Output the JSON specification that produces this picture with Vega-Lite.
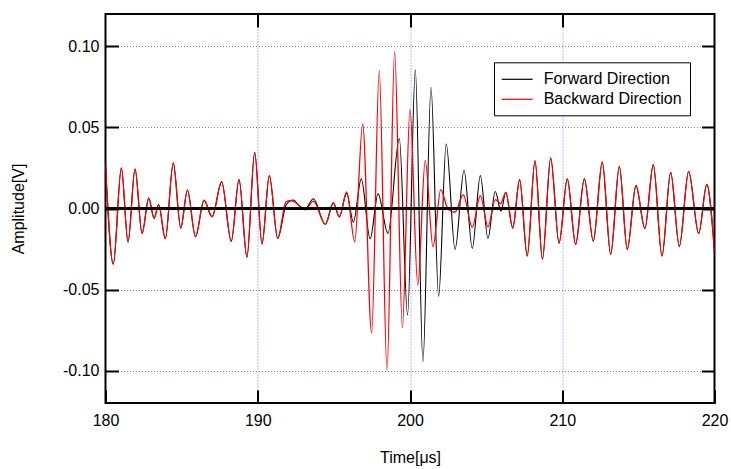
{
  "$schema": "https://vega.github.io/schema/vega-lite/v6.json",
  "width": 609,
  "height": 389,
  "autosize": "none",
  "padding": {"left": 105.5, "top": 14, "right": 16.5, "bottom": 66},
  "background": "white",
  "datasets": {
    "sig": [
      {"dir":"Forward Direction","t":180.0,"v":0.027},
      {"dir":"Forward Direction","t":180.51,"v":-0.0344},
      {"dir":"Forward Direction","t":181.04,"v":0.025},
      {"dir":"Forward Direction","t":181.48,"v":-0.0207},
      {"dir":"Forward Direction","t":181.94,"v":0.0244},
      {"dir":"Forward Direction","t":182.40,"v":-0.0154},
      {"dir":"Forward Direction","t":182.84,"v":0.0064},
      {"dir":"Forward Direction","t":183.19,"v":-0.006},
      {"dir":"Forward Direction","t":183.49,"v":0.0023},
      {"dir":"Forward Direction","t":183.93,"v":-0.0187},
      {"dir":"Forward Direction","t":184.45,"v":0.0281},
      {"dir":"Forward Direction","t":184.94,"v":-0.0121},
      {"dir":"Forward Direction","t":185.38,"v":0.0113},
      {"dir":"Forward Direction","t":185.91,"v":-0.0174},
      {"dir":"Forward Direction","t":186.47,"v":0.0051},
      {"dir":"Forward Direction","t":187.0,"v":-0.0051},
      {"dir":"Forward Direction","t":187.63,"v":0.0164},
      {"dir":"Forward Direction","t":188.26,"v":-0.0203},
      {"dir":"Forward Direction","t":188.77,"v":0.0178},
      {"dir":"Forward Direction","t":189.29,"v":-0.030},
      {"dir":"Forward Direction","t":189.80,"v":0.0346},
      {"dir":"Forward Direction","t":190.28,"v":-0.0219},
      {"dir":"Forward Direction","t":190.76,"v":0.0203},
      {"dir":"Forward Direction","t":191.31,"v":-0.0185},
      {"dir":"Forward Direction","t":191.85,"v":0.002},
      {"dir":"Forward Direction","t":192.1,"v":0.0045},
      {"dir":"Forward Direction","t":192.33,"v":0.0052},
      {"dir":"Forward Direction","t":192.7,"v":0.002},
      {"dir":"Forward Direction","t":193.1,"v":-0.0006},
      {"dir":"Forward Direction","t":193.65,"v":0.006},
      {"dir":"Forward Direction","t":194.44,"v":-0.0098},
      {"dir":"Forward Direction","t":194.96,"v":0.0035},
      {"dir":"Forward Direction","t":195.36,"v":-0.0051},
      {"dir":"Forward Direction","t":195.84,"v":0.0095},
      {"dir":"Forward Direction","t":196.28,"v":-0.0084},
      {"dir":"Forward Direction","t":196.80,"v":0.0183},
      {"dir":"Forward Direction","t":197.38,"v":-0.0187},
      {"dir":"Forward Direction","t":197.90,"v":0.009},
      {"dir":"Forward Direction","t":198.55,"v":-0.0154},
      {"dir":"Forward Direction","t":199.30,"v":0.0431},
      {"dir":"Forward Direction","t":199.84,"v":-0.0657},
      {"dir":"Forward Direction","t":200.35,"v":0.0855},
      {"dir":"Forward Direction","t":200.85,"v":-0.0945},
      {"dir":"Forward Direction","t":201.38,"v":0.0748},
      {"dir":"Forward Direction","t":201.88,"v":-0.0543},
      {"dir":"Forward Direction","t":202.38,"v":0.0398},
      {"dir":"Forward Direction","t":202.96,"v":-0.0252},
      {"dir":"Forward Direction","t":203.55,"v":0.0236},
      {"dir":"Forward Direction","t":204.09,"v":-0.0246},
      {"dir":"Forward Direction","t":204.62,"v":0.0203},
      {"dir":"Forward Direction","t":205.12,"v":-0.0185},
      {"dir":"Forward Direction","t":205.60,"v":0.0105},
      {"dir":"Forward Direction","t":205.98,"v":-0.0017},
      {"dir":"Forward Direction","t":206.29,"v":0.010},
      {"dir":"Forward Direction","t":206.75,"v":-0.0121},
      {"dir":"Forward Direction","t":207.20,"v":0.0178},
      {"dir":"Forward Direction","t":207.70,"v":-0.0293},
      {"dir":"Forward Direction","t":208.21,"v":0.0295},
      {"dir":"Forward Direction","t":208.70,"v":-0.0312},
      {"dir":"Forward Direction","t":209.24,"v":0.0312},
      {"dir":"Forward Direction","t":209.79,"v":-0.0215},
      {"dir":"Forward Direction","t":210.33,"v":0.0183},
      {"dir":"Forward Direction","t":210.88,"v":-0.0221},
      {"dir":"Forward Direction","t":211.45,"v":0.0183},
      {"dir":"Forward Direction","t":212.04,"v":-0.0201},
      {"dir":"Forward Direction","t":212.63,"v":0.0287},
      {"dir":"Forward Direction","t":213.18,"v":-0.0283},
      {"dir":"Forward Direction","t":213.75,"v":0.026},
      {"dir":"Forward Direction","t":214.27,"v":-0.0252},
      {"dir":"Forward Direction","t":214.84,"v":0.0141},
      {"dir":"Forward Direction","t":215.43,"v":-0.0123},
      {"dir":"Forward Direction","t":215.98,"v":0.0271},
      {"dir":"Forward Direction","t":216.55,"v":-0.0293},
      {"dir":"Forward Direction","t":217.12,"v":0.0223},
      {"dir":"Forward Direction","t":217.69,"v":-0.0235},
      {"dir":"Forward Direction","t":218.30,"v":0.0229},
      {"dir":"Forward Direction","t":218.96,"v":-0.0154},
      {"dir":"Forward Direction","t":219.49,"v":0.0148},
      {"dir":"Forward Direction","t":220.0,"v":-0.0269},

      {"dir":"Backward Direction","t":180.0,"v":0.027},
      {"dir":"Backward Direction","t":180.51,"v":-0.0344},
      {"dir":"Backward Direction","t":181.04,"v":0.025},
      {"dir":"Backward Direction","t":181.48,"v":-0.0207},
      {"dir":"Backward Direction","t":181.94,"v":0.0244},
      {"dir":"Backward Direction","t":182.40,"v":-0.0154},
      {"dir":"Backward Direction","t":182.84,"v":0.0064},
      {"dir":"Backward Direction","t":183.19,"v":-0.006},
      {"dir":"Backward Direction","t":183.49,"v":0.0023},
      {"dir":"Backward Direction","t":183.93,"v":-0.0187},
      {"dir":"Backward Direction","t":184.45,"v":0.0281},
      {"dir":"Backward Direction","t":184.94,"v":-0.0121},
      {"dir":"Backward Direction","t":185.38,"v":0.0113},
      {"dir":"Backward Direction","t":185.91,"v":-0.0174},
      {"dir":"Backward Direction","t":186.47,"v":0.0051},
      {"dir":"Backward Direction","t":187.0,"v":-0.0051},
      {"dir":"Backward Direction","t":187.63,"v":0.0164},
      {"dir":"Backward Direction","t":188.26,"v":-0.0203},
      {"dir":"Backward Direction","t":188.77,"v":0.0178},
      {"dir":"Backward Direction","t":189.29,"v":-0.030},
      {"dir":"Backward Direction","t":189.80,"v":0.0346},
      {"dir":"Backward Direction","t":190.28,"v":-0.0219},
      {"dir":"Backward Direction","t":190.76,"v":0.0203},
      {"dir":"Backward Direction","t":191.31,"v":-0.0185},
      {"dir":"Backward Direction","t":191.85,"v":0.004},
      {"dir":"Backward Direction","t":192.1,"v":0.0048},
      {"dir":"Backward Direction","t":192.4,"v":0.0042},
      {"dir":"Backward Direction","t":192.7,"v":0.002},
      {"dir":"Backward Direction","t":193.1,"v":-0.0008},
      {"dir":"Backward Direction","t":193.65,"v":0.0045},
      {"dir":"Backward Direction","t":194.44,"v":-0.0098},
      {"dir":"Backward Direction","t":194.96,"v":0.0035},
      {"dir":"Backward Direction","t":195.36,"v":-0.0051},
      {"dir":"Backward Direction","t":195.84,"v":0.0103},
      {"dir":"Backward Direction","t":196.37,"v":-0.0205},
      {"dir":"Backward Direction","t":196.89,"v":0.0521},
      {"dir":"Backward Direction","t":197.48,"v":-0.0769},
      {"dir":"Backward Direction","t":197.98,"v":0.0851},
      {"dir":"Backward Direction","t":198.49,"v":-0.100},
      {"dir":"Backward Direction","t":198.99,"v":0.0968},
      {"dir":"Backward Direction","t":199.50,"v":-0.0734},
      {"dir":"Backward Direction","t":200.0,"v":0.0613},
      {"dir":"Backward Direction","t":200.51,"v":-0.0472},
      {"dir":"Backward Direction","t":201.0,"v":0.0297},
      {"dir":"Backward Direction","t":201.51,"v":-0.0236},
      {"dir":"Backward Direction","t":202.02,"v":0.0117},
      {"dir":"Backward Direction","t":202.5,"v":-0.0005},
      {"dir":"Backward Direction","t":202.95,"v":-0.0023},
      {"dir":"Backward Direction","t":203.5,"v":0.0084},
      {"dir":"Backward Direction","t":204.09,"v":-0.0115},
      {"dir":"Backward Direction","t":204.62,"v":0.008},
      {"dir":"Backward Direction","t":205.12,"v":-0.0113},
      {"dir":"Backward Direction","t":205.60,"v":0.0055},
      {"dir":"Backward Direction","t":205.95,"v":0.003},
      {"dir":"Backward Direction","t":206.29,"v":0.010},
      {"dir":"Backward Direction","t":206.75,"v":-0.0121},
      {"dir":"Backward Direction","t":207.20,"v":0.0178},
      {"dir":"Backward Direction","t":207.70,"v":-0.0293},
      {"dir":"Backward Direction","t":208.21,"v":0.0295},
      {"dir":"Backward Direction","t":208.70,"v":-0.0312},
      {"dir":"Backward Direction","t":209.24,"v":0.0312},
      {"dir":"Backward Direction","t":209.79,"v":-0.0211},
      {"dir":"Backward Direction","t":210.33,"v":0.0183},
      {"dir":"Backward Direction","t":210.88,"v":-0.0221},
      {"dir":"Backward Direction","t":211.45,"v":0.0183},
      {"dir":"Backward Direction","t":212.04,"v":-0.0201},
      {"dir":"Backward Direction","t":212.63,"v":0.0287},
      {"dir":"Backward Direction","t":213.18,"v":-0.0283},
      {"dir":"Backward Direction","t":213.75,"v":0.026},
      {"dir":"Backward Direction","t":214.27,"v":-0.0252},
      {"dir":"Backward Direction","t":214.84,"v":0.0141},
      {"dir":"Backward Direction","t":215.43,"v":-0.0123},
      {"dir":"Backward Direction","t":215.98,"v":0.0271},
      {"dir":"Backward Direction","t":216.55,"v":-0.0293},
      {"dir":"Backward Direction","t":217.12,"v":0.0223},
      {"dir":"Backward Direction","t":217.69,"v":-0.0232},
      {"dir":"Backward Direction","t":218.30,"v":0.0229},
      {"dir":"Backward Direction","t":218.96,"v":-0.0154},
      {"dir":"Backward Direction","t":219.49,"v":0.0148},
      {"dir":"Backward Direction","t":220.0,"v":-0.0269}
    ]
  },
  "data": {"name": "sig"},
  "layer": [
    {
      "transform": [{"filter": "datum.dir == 'Forward Direction'"}],
      "mark": {"type": "line", "interpolate": "monotone", "strokeWidth": 1.1, "clip": true},
      "encoding": {
        "x": {"field": "t", "type": "quantitative",
              "scale": {"domain": [180, 220], "nice": false, "zero": false},
              "axis": {"orient": "bottom", "values": [180, 190, 200, 210, 220], "title": "Time[μs]",
                       "grid": true, "labelFlush": false, "labelPadding": 22,
                       "gridOpacity": {"condition": {"test": "datum.value == 180 || datum.value == 220", "value": 0}, "value": 1},
                       "titleX": 304.5, "titleY": 54.5, "titleBaseline": "middle", "titleAlign": "center"}},
        "y": {"field": "v", "type": "quantitative",
              "scale": {"domain": [-0.12, 0.12], "nice": false, "zero": false},
              "axis": {"orient": "left", "values": [-0.10, -0.05, 0, 0.05, 0.10], "title": "Amplitude[V]",
                       "grid": true, "labelFlush": false, "labelPadding": 19.5,
                       "gridOpacity": {"condition": {"test": "datum.value == 0", "value": 0}, "value": 1},
                       "labelExpr": "replace(format(datum.value, '.2f'), '\u2212', '-')",
                       "titleX": -87, "titleY": 194.5, "titleAngle": -90, "titleBaseline": "middle", "titleAlign": "center"}},
        "color": {"field": "dir", "type": "nominal",
                  "scale": {"domain": ["Forward Direction", "Backward Direction"], "range": ["#000000", "#ff0000"]},
                  "legend": {"title": null, "orient": "none", "legendX": 388.5, "legendY": 48.3}}
      }
    },
    {
      "transform": [{"filter": "datum.dir == 'Backward Direction'"}],
      "mark": {"type": "line", "interpolate": "monotone", "strokeWidth": 1.3, "clip": true},
      "encoding": {
        "x": {"field": "t", "type": "quantitative", "axis": null},
        "y": {"field": "v", "type": "quantitative", "axis": null},
        "color": {"field": "dir", "type": "nominal",
                  "legend": {"title": null, "orient": "none", "legendX": 388.5, "legendY": 48.3}}
      }
    },
    {
      "mark": {"type": "rule", "color": "black", "strokeWidth": 2},
      "encoding": {"y": {"datum": 0, "axis": null}}
    },
    {
      "transform": [{"filter": "datum.dir == 'Forward Direction'"}],
      "mark": {"type": "line", "strokeOpacity": 0},
      "encoding": {
        "x": {"field": "t", "type": "quantitative",
              "axis": {"orient": "top", "values": [190, 200, 210], "labels": false, "title": null, "grid": false}},
        "y": {"field": "v", "type": "quantitative",
              "axis": {"orient": "right", "values": [-0.10, -0.05, 0, 0.05, 0.10], "labels": false, "title": null, "grid": false}}
      }
    }
  ],
  "resolve": {"axis": {"x": "independent", "y": "independent"}},
  "config": {
    "view": {"stroke": "black", "strokeWidth": 2},
    "font": "Liberation Sans",
    "axis": {
      "domain": false,
      "ticks": true,
      "tickSize": -13,
      "tickWidth": 2,
      "tickColor": "black",
      "labelFont": "Liberation Sans",
      "labelFontSize": 16,
      "labelColor": "black",
      "titleFont": "Liberation Sans",
      "titleFontSize": 16,
      "titleFontWeight": "normal",
      "titleColor": "black",
      "gridColor": "#7070ff",
      "gridDash": [1, 2],
      "gridWidth": 1
    },
    "legend": {
      "labelFont": "Liberation Sans",
      "labelFontSize": 16,
      "labelColor": "black",
      "symbolType": "M-1.16,0H2.71",
      "symbolSize": 256,
      "symbolStrokeWidth": 1.2,
      "strokeColor": "black",
      "fillColor": "white",
      "padding": 8,
      "rowPadding": 3,
      "labelOffset": 23.7,
      "labelLimit": 300
    }
  }
}
